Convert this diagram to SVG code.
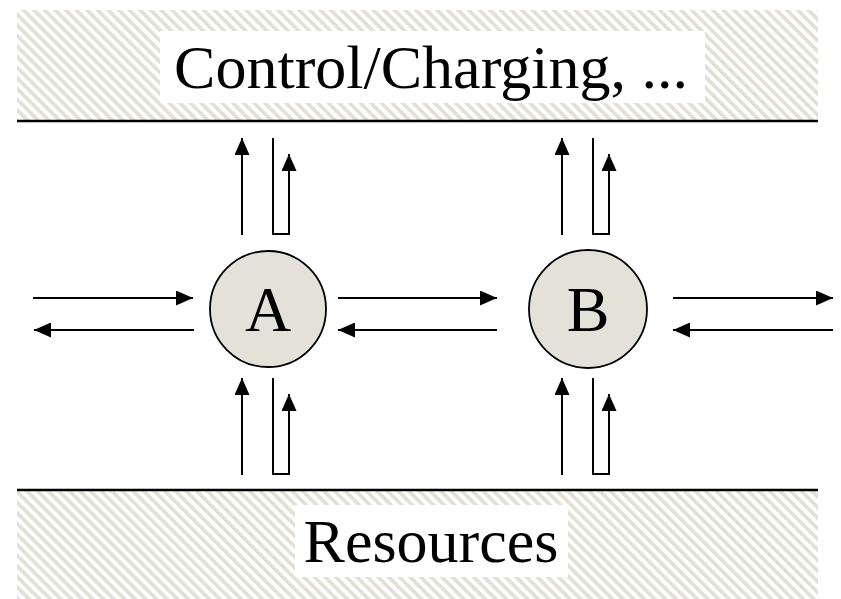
<svg xmlns="http://www.w3.org/2000/svg" width="841" height="599" viewBox="0 0 841 599">
<defs>
<pattern id="hatch" patternUnits="userSpaceOnUse" width="7.5" height="7.5" patternTransform="rotate(-45)">
<rect width="7.5" height="7.5" fill="#ffffff"/>
<rect width="3.8" height="7.5" fill="#e3e0d7"/>
</pattern>
<marker id="ah" viewBox="0 0 17 15" refX="17" refY="7.5" markerWidth="17" markerHeight="15" markerUnits="userSpaceOnUse" orient="auto">
<path d="M0,0 L17,7.5 L0,15 Z" fill="#000"/>
</marker>
</defs>
<style>
.band{fill:url(#hatch);stroke:none}
.rule{stroke:#000;stroke-width:2.5}
.lbl{font-family:"Liberation Serif","Times New Roman",serif;font-size:62px;fill:#000;text-anchor:middle}
.big{font-size:64px}
.node{fill:#e4e1d9;stroke:#000;stroke-width:1.8}
.arr{fill:none;stroke:#000;stroke-width:2;marker-end:url(#ah)}
</style>
<g id="top-band">
<rect class="band" x="17" y="10" width="801" height="111"/>
<rect x="160" y="31" width="545" height="72" fill="#fff"/>
<text class="lbl" x="431" y="88">Control/Charging, ...</text>
<line class="rule" x1="17" y1="121" x2="818" y2="121"/>
</g>
<g id="bottom-band">
<rect class="band" x="17" y="490" width="801" height="109"/>
<rect x="295" y="505" width="273" height="72" fill="#fff"/>
<text class="lbl" x="431" y="562">Resources</text>
<line class="rule" x1="17" y1="490" x2="818" y2="490"/>
</g>
<g id="node-A">
<circle class="node" cx="268" cy="309" r="58"/>
<text class="lbl big" x="268" y="331">A</text>
</g>
<g id="node-B">
<circle class="node" cx="588" cy="309" r="59"/>
<text class="lbl big" x="588" y="331">B</text>
</g>
<g id="connectors">
<line class="arr" x1="33" y1="298" x2="193" y2="298"/>
<line class="arr" x1="194" y1="330" x2="34" y2="330"/>
<line class="arr" x1="338" y1="298" x2="497" y2="298"/>
<line class="arr" x1="497" y1="330" x2="338" y2="330"/>
<line class="arr" x1="673" y1="298" x2="833" y2="298"/>
<line class="arr" x1="833" y1="330" x2="673" y2="330"/>
<line class="arr" x1="242" y1="235" x2="242" y2="138"/>
<path class="arr" d="M273,138 V234 H289 V154"/>
<line class="arr" x1="242" y1="475" x2="242" y2="378"/>
<path class="arr" d="M273,378 V474 H289 V394"/>
<line class="arr" x1="562" y1="235" x2="562" y2="138"/>
<path class="arr" d="M593,138 V234 H609 V154"/>
<line class="arr" x1="562" y1="475" x2="562" y2="378"/>
<path class="arr" d="M593,378 V474 H609 V394"/>
</g>
</svg>
